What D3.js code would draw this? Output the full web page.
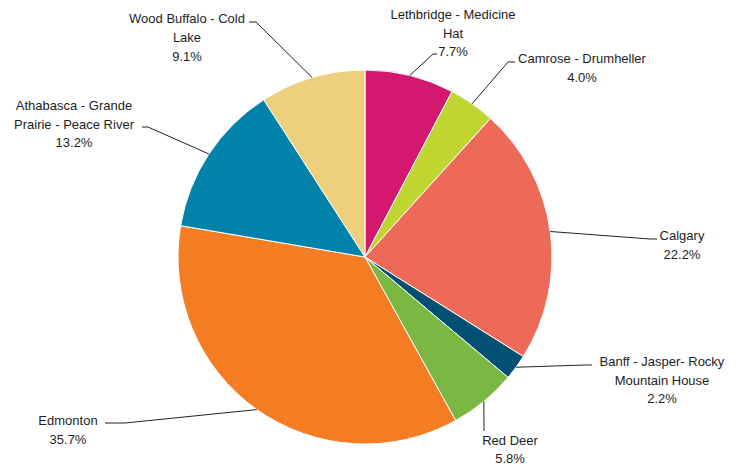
<!DOCTYPE html>
<meta charset="utf-8">
<script src="https://d3js.org/d3.v7.min.js"></script>
<style>
  body { margin: 0; background: #fff; }
  text { font-family: "Liberation Sans", Arial, sans-serif; font-size: 13px; fill: #1e1e1e; }
</style>
<body>
<div id="chart"></div>
<script>
// data, clockwise from 12 o'clock
var regions = ["Lethbridge - Medicine Hat", "Camrose - Drumheller", "Calgary",
  "Banff - Jasper - Rocky Mountain House", "Red Deer", "Edmonton",
  "Athabasca - Grande Prairie - Peace River", "Wood Buffalo - Cold Lake"];
var shares = [7.7, 4.0, 22.2, 2.2, 5.8, 35.7, 13.2, 9.1];
var labelLines = [
  ["Lethbridge - Medicine", "Hat"],
  ["Camrose - Drumheller"],
  ["Calgary"],
  ["Banff -  Jasper- Rocky", "Mountain House"],
  ["Red Deer"],
  ["Edmonton"],
  ["Athabasca - Grande", "Prairie  - Peace River"],
  ["Wood Buffalo - Cold", "Lake"]
];
var colors = ["#d5186f", "#bfd631", "#ed6a58", "#005073", "#7ab843", "#f47c22", "#0082aa", "#edd07e"];

// label layout (elbow, line end, text centre / first baseline)
var labelLayout = [
  {elbow: [433, 54], end: [437, 54], tx: 453, ty: 19, lh: 18.5},
  {elbow: [508, 62], end: [515, 62], tx: 582, ty: 63, lh: 19},
  {elbow: [650, 239], end: [657, 239], tx: 682, ty: 240, lh: 19},
  {elbow: [585, 365], end: [592, 365], tx: 662, ty: 366, lh: 18.5},
  {elbow: [484, 431], end: [484, 431], tx: 510, ty: 445, lh: 17.5},
  {elbow: [125, 423], end: [105, 423], tx: 68, ty: 425, lh: 19},
  {elbow: [148, 127], end: [142, 127], tx: 74, ty: 110, lh: 18.5},
  {elbow: [256, 22], end: [249, 22], tx: 187, ty: 23, lh: 19}
];

var width = 743, height = 465;
var cx = 365, cy = 257, radius = 187;

var svg = d3.select("#chart").append("svg")
  .attr("width", width).attr("height", height);

var data = regions.map(function(r, i) { return {name: r, value: shares[i], i: i}; });

var pie = d3.pie().sort(null).value(function(d) { return d.value; });
var arc = d3.arc().innerRadius(0).outerRadius(radius);
var arcs = pie(data);

var g = svg.append("g").attr("transform", "translate(" + cx + "," + cy + ")");

g.selectAll("path.slice")
  .data(arcs)
  .enter().append("path")
    .attr("class", "slice")
    .attr("d", arc)
    .attr("fill", function(d) { return colors[d.data.i]; })
    .attr("stroke", "#fff")
    .attr("stroke-width", 1);

// leader lines
svg.selectAll("polyline.leader")
  .data(arcs)
  .enter().append("polyline")
    .attr("class", "leader")
    .attr("fill", "none")
    .attr("stroke", "#222")
    .attr("stroke-width", 1)
    .attr("points", function(d) {
      var a = (d.startAngle + d.endAngle) / 2;
      var sx = cx + radius * Math.sin(a), sy = cy - radius * Math.cos(a);
      var L = labelLayout[d.data.i];
      return [[sx, sy], L.elbow, L.end].map(function(p) { return p.join(","); }).join(" ");
    });

// labels
var labels = svg.selectAll("text.lbl")
  .data(arcs)
  .enter().append("text")
    .attr("class", "lbl")
    .attr("text-anchor", "middle");

labels.each(function(d) {
  var L = labelLayout[d.data.i];
  var lines = labelLines[d.data.i].concat([d.data.value.toFixed(1) + "%"]);
  var t = d3.select(this);
  lines.forEach(function(s, k) {
    t.append("tspan").attr("x", L.tx).attr("y", L.ty + k * L.lh).text(s);
  });
});
</script>
</body>
